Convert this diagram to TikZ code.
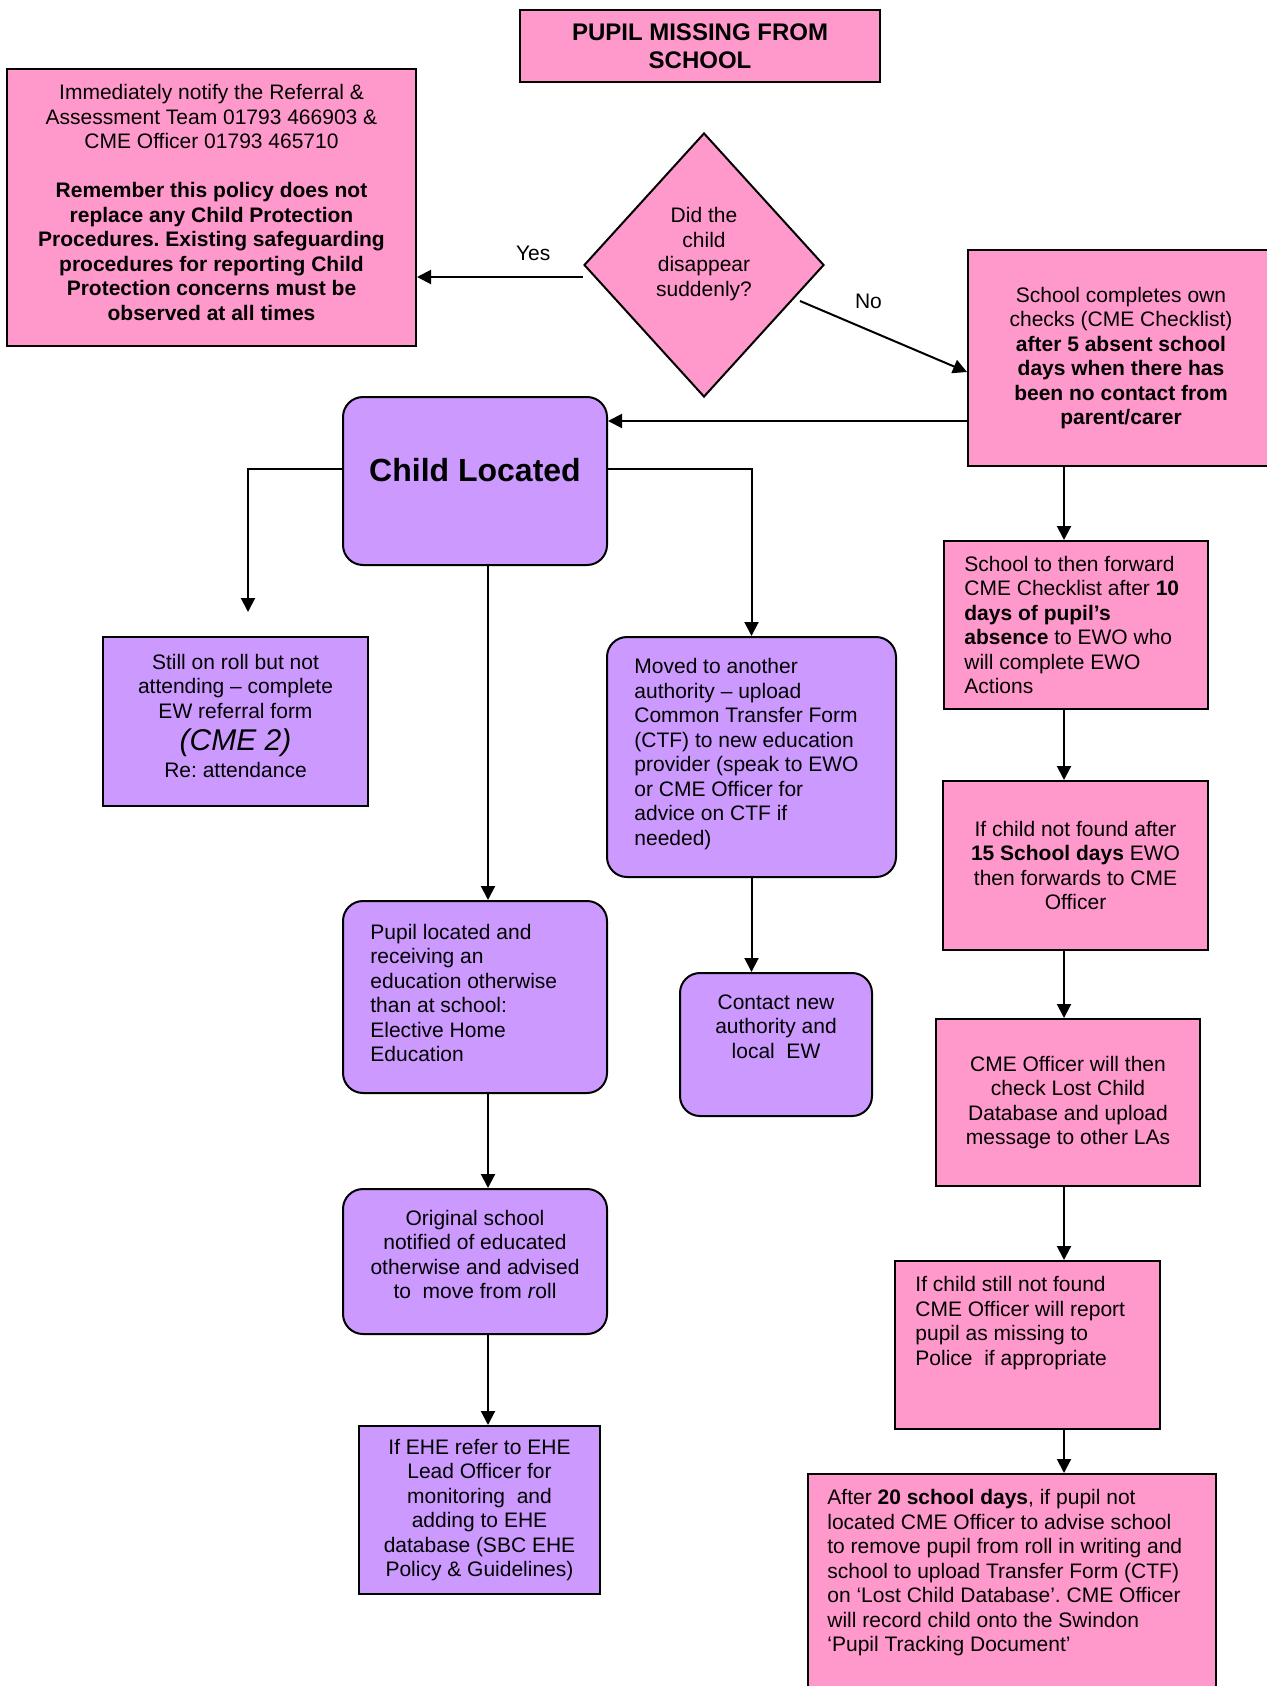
\documentclass[tikz,border=0pt]{standalone}
\usepackage{fontspec}
\setmainfont{Liberation Sans}
\usetikzlibrary{arrows.meta,positioning,fit,shapes.geometric}
\definecolor{cmepink}{HTML}{FF99CC}
\definecolor{cmelilac}{HTML}{CC99FF}
\frenchspacing
\begin{document}
\begin{tikzpicture}[x=0.5pt,y=-0.5pt,
    box/.style={draw, line width=1pt, inner sep=0pt},
    pinkbox/.style={box, fill=cmepink},
    lilacbox/.style={box, fill=cmelilac},
    roundbox/.style={lilacbox, rounded corners=10pt},
    txt/.style={inner sep=0pt, align=center, font=\fontsize{10.5}{12.25}\selectfont},
    ltxt/.style={txt, align=left},
    arr/.style={line width=1pt, -{Triangle[length=7pt,width=7pt]}}]
    \useasboundingbox (0,0) rectangle (1267,1686);
    \node[pinkbox, fit={(520,10) (880,82)}] (title) {};
    \node[pinkbox, fit={(7,69) (416,346)}] (notify) {};
    \node[diamond, box, fill=cmepink, minimum width=120pt, minimum height=132pt] (decide) at (704,265) {};
    \node[pinkbox, fit={(968,250) (1274,466)}] (checks) {};
    \node[roundbox, fit={(343,397) (607,565)}] (located) {};
    \node[lilacbox, fit={(103,637) (368,806)}] (onroll) {};
    \node[roundbox, fit={(607,637) (896,877)}] (moved) {};
    \node[roundbox, fit={(343,901) (607,1093)}] (ehe) {};
    \node[roundbox, fit={(680,973) (872,1116)}] (contact) {};
    \node[roundbox, fit={(343,1189) (607,1334)}] (original) {};
    \node[lilacbox, fit={(359,1426) (600,1594)}] (ehelead) {};
    \node[pinkbox, fit={(944,541) (1208,709)}] (forward) {};
    \node[pinkbox, fit={(943,781) (1208,950)}] (found15) {};
    \node[pinkbox, fit={(936,1019) (1200,1186)}] (lostdb) {};
    \node[pinkbox, fit={(895,1261) (1160,1429)}] (police) {};
    \node[pinkbox, fit={(808,1474) (1216,1700)}] (remove) {};

    \node[txt, font=\bfseries\fontsize{12}{14}\selectfont] (titlet) at (title.center) {PUPIL MISSING FROM\\SCHOOL};
    \node[txt, yshift=2.5pt] (notifyt) at (notify.center) {Immediately notify the Referral \&\\Assessment Team 01793 466903 \&\\CME Officer 01793 465710\\[12.25pt]
        \textbf{Remember this policy does not}\\\textbf{replace any Child Protection}\\\textbf{Procedures. Existing safeguarding}\\\textbf{procedures for reporting Child}\\\textbf{Protection concerns must be}\\\textbf{observed at all times}};
    \node[txt, yshift=5.5pt] (decidet) at (decide.center) {Did the\\child\\disappear\\suddenly?};
    \node[txt] (checkst) at (checks.center) {School completes own\\checks (CME Checklist)\\\textbf{after 5 absent school}\\\textbf{days when there has}\\\textbf{been no contact from}\\\textbf{parent/carer}};
    \node[txt, font=\bfseries\fontsize{16}{18}\selectfont, yshift=5.5pt] (locatedt) at (located.center) {Child Located};
    \node[txt, yshift=3pt] (onrollt) at (onroll.center) {Still on roll but not\\attending – complete\\EW referral form\\[4pt]{\itshape\fontsize{15}{16}\selectfont (CME 2)}\\[1pt]Re: attendance};
    \node[ltxt, right=14pt of moved.west, yshift=1.5pt] (movedt) {Moved to another\\authority – upload\\Common Transfer Form\\(CTF) to new education\\provider (speak to EWO\\or CME Officer for\\advice on CTF if\\needed)};
    \node[ltxt, right=14pt of ehe.west, yshift=2pt] (ehet) {Pupil located and\\receiving an\\education otherwise\\than at school:\\Elective Home\\Education};
    \node[txt, yshift=9pt] (contactt) at (contact.center) {Contact new\\authority and\\local\ \ EW};
    \node[txt, yshift=3.5pt] (originalt) at (original.center) {Original school\\notified of educated\\otherwise and advised\\to\ \ move from \textit{r}oll};
    \node[txt] (eheleadt) at (ehelead.center) {If EHE refer to EHE\\Lead Officer for\\monitoring\ \ and\\adding to EHE\\database (SBC EHE\\Policy \& Guidelines)};
    \node[ltxt, right=10.5pt of forward.west] (forwardt) {School to then forward\\CME Checklist after \textbf{10}\\\textbf{days of pupil’s}\\\textbf{absence} to EWO who\\will complete EWO\\Actions};
    \node[txt] (found15t) at (found15.center) {If child not found after\\\textbf{15 School days} EWO\\then forwards to CME\\Officer};
    \node[txt] (lostdbt) at (lostdb.center) {CME Officer will then\\check Lost Child\\Database and upload\\message to other LAs};
    \node[ltxt, right=10.5pt of police.west, yshift=11pt] (policet) {If child still not found\\CME Officer will report\\pupil as missing to\\Police\ \ if appropriate};
    \node[ltxt, below right=8pt and 10pt of remove.north west] (removet) {After \textbf{20 school days}, if pupil not\\located CME Officer to advise school\\to remove pupil from roll in writing and\\school to upload Transfer Form (CTF)\\on ‘Lost Child Database’. CME Officer\\will record child onto the Swindon\\‘Pupil Tracking Document’};

    \coordinate (yeslvl) at (0,277);
    \coordinate (backlvl) at (0,421);
    \coordinate (midcol) at (488,0);
    \coordinate (rightcol) at (1064,0);
    \coordinate (onrolltip) at (248,612);
    \draw[arr] (decide.west |- yeslvl) -- (notify.east |- yeslvl) node[txt, pos=0.3, above=7.5pt] {Yes};
    \draw[arr] ([shift={(-12.5pt,-18pt)}]decide.east) -- ([yshift=-7pt]checks.west) node[txt, pos=0.41, above=10pt] {No};
    \draw[arr] (checks.west |- backlvl) -- (located.east |- backlvl);
    \draw[arr] ([yshift=6pt]located.west) -| (onrolltip);
    \draw[arr] ([yshift=6pt]located.east) -| (moved.north);
    \draw[arr] (midcol |- located.south) -- (midcol |- ehe.north);
    \draw[arr] (midcol |- ehe.south) -- (midcol |- original.north);
    \draw[arr] (midcol |- original.south) -- (midcol |- ehelead.north);
    \draw[arr] (moved.south) -- (moved.south |- contact.north);
    \foreach \a/\b in {checks/forward, forward/found15, found15/lostdb, lostdb/police, police/remove}
        \draw[arr] (rightcol |- \a.south) -- (rightcol |- \b.north);
\end{tikzpicture}
\end{document}
